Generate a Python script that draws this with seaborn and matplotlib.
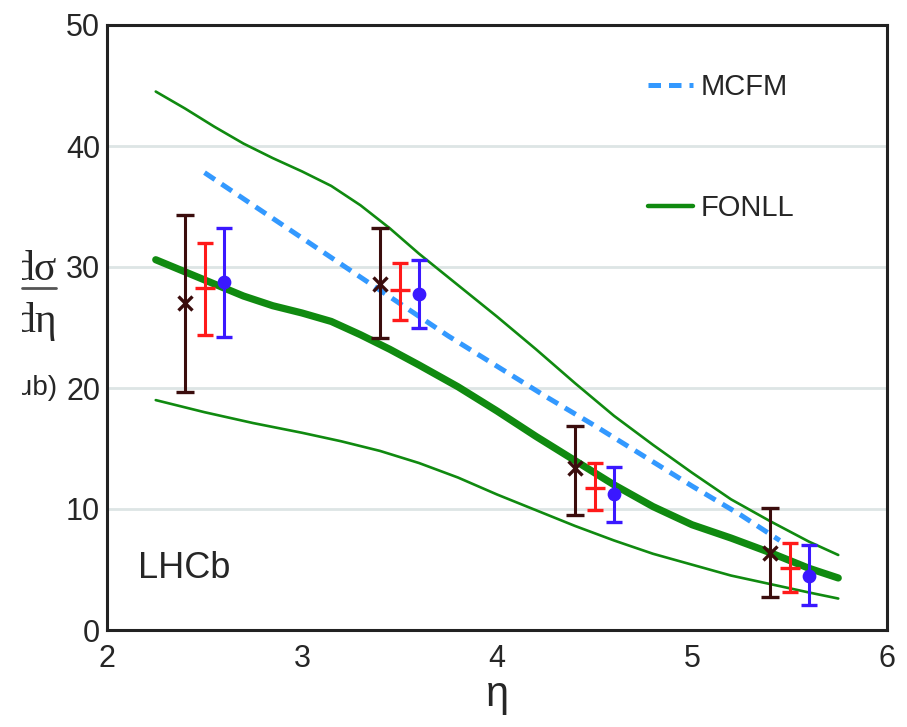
import pandas as pd
import seaborn as sns
import matplotlib.pyplot as plt
from matplotlib.lines import Line2D
from matplotlib.transforms import Bbox, TransformedBbox

# données mesurées (trois jeux, décalés en eta)
eta_brown = [2.4, 3.4, 4.4, 5.4]
val_brown = [27.0, 28.6, 13.4, 6.4]
lo_brown = [19.7, 24.1, 9.5, 2.7]
hi_brown = [34.3, 33.2, 16.9, 10.1]

eta_red = [2.5, 3.5, 4.5, 5.5]
val_red = [28.3, 28.1, 11.7, 5.1]
lo_red = [24.4, 25.6, 9.9, 3.1]
hi_red = [32.0, 30.3, 13.8, 7.2]

eta_blue = [2.6, 3.6, 4.6, 5.6]
val_blue = [28.8, 27.8, 11.2, 4.5]
lo_blue = [24.2, 25.0, 8.9, 2.1]
hi_blue = [33.2, 30.6, 13.5, 7.0]

# prédictions théoriques
eta_mcfm = [2.5, 2.75, 3.0, 3.25, 3.5, 3.75, 4.0, 4.25, 4.5, 4.75, 5.0, 5.25, 5.45]
val_mcfm = [37.8, 35.1, 32.4, 29.7, 27.0, 24.3, 21.8, 19.3, 16.9, 14.4, 11.9, 9.5, 7.4]

eta_fonll = [2.25, 2.4, 2.55, 2.7, 2.85, 3.0, 3.15, 3.3, 3.45, 3.6, 3.8, 4.0, 4.2,
             4.4, 4.6, 4.8, 5.0, 5.2, 5.4, 5.6, 5.75]
val_fonll = [30.6, 29.6, 28.6, 27.6, 26.8, 26.2, 25.5, 24.4, 23.2, 21.9, 20.1, 18.1, 16.0,
             14.0, 12.0, 10.2, 8.7, 7.6, 6.4, 5.1, 4.3]

eta_up = [2.25, 2.4, 2.55, 2.7, 2.85, 3.0, 3.15, 3.3, 3.45, 3.6, 3.8, 4.0, 4.2,
          4.4, 4.6, 4.8, 5.0, 5.2, 5.4, 5.6, 5.75]
up_fonll = [44.5, 43.1, 41.6, 40.2, 39.0, 37.9, 36.7, 35.1, 33.2, 31.1, 28.5, 25.9, 23.2,
            20.4, 17.7, 15.3, 13.0, 10.8, 9.0, 7.3, 6.2]

eta_dn = [2.25, 2.5, 2.75, 3.0, 3.2, 3.4, 3.6, 3.8, 4.0, 4.2, 4.4, 4.6, 4.8,
          5.0, 5.2, 5.4, 5.6, 5.75]
dn_fonll = [19.0, 18.0, 17.1, 16.3, 15.6, 14.8, 13.8, 12.6, 11.2, 9.9, 8.6, 7.4, 6.3,
            5.4, 4.5, 3.8, 3.1, 2.6]

x_ticks = [2, 3, 4, 5, 6]
y_ticks = [0, 10, 20, 30, 40, 50]

sans = ['Liberation Sans Narrow', 'Liberation Sans', 'DejaVu Sans']
serif = ['Liberation Serif', 'DejaVu Serif']

sns.set_theme(style="white")
plt.rcParams['font.family'] = sans

fig = plt.figure(figsize=(9.07, 7.27), dpi=100)
ax = fig.add_axes([107/907, 1-630/727, 780/907, 605/727])

# courbes théoriques
sns.lineplot(x=eta_up, y=up_fonll, color="#108a10", lw=1.9, ax=ax)
sns.lineplot(x=eta_dn, y=dn_fonll, color="#108a10", lw=1.9, ax=ax)
sns.lineplot(x=eta_fonll, y=val_fonll, color="#108a10", lw=5.2, ax=ax)
sns.lineplot(x=eta_mcfm, y=val_mcfm, color="#3399ff", lw=3.6, ax=ax,
             linestyle=(0, (2.5, 1.6)))

# points de mesure avec barres d'erreur
def draw_points(xs, ys, lo, hi, color, marker, ms, capsize):
    err = [[y - l for y, l in zip(ys, lo)], [h - y for y, h in zip(ys, hi)]]
    ax.errorbar(xs, ys, yerr=err, fmt=marker, color=color, ms=ms, mew=2.4,
                elinewidth=2.2, capsize=capsize, capthick=3.4, zorder=5)

draw_points(eta_brown, val_brown, lo_brown, hi_brown, "#3b0d0d", "x", 10, 6.5)
draw_points(eta_red, val_red, lo_red, hi_red, "#ff1a1a", "_", 14, 6)
draw_points(eta_blue, val_blue, lo_blue, hi_blue, "#3a18ff", "o", 7.5, 6)

ax.set_xlim(2, 6)
ax.set_ylim(0, 50)
ax.set_xticks(x_ticks)
ax.set_yticks(y_ticks)
ax.set_xticklabels([str(t) for t in x_ticks])
ax.set_yticklabels([str(t) for t in y_ticks])
ax.tick_params(axis='both', direction='in', labelsize=22, color="#222222", width=1.8)
ax.tick_params(axis='x', length=8, pad=10)
ax.tick_params(axis='y', length=5, pad=5)
ax.yaxis.grid(True, color="#dde5e5", lw=2)
ax.xaxis.grid(False)
for s in ax.spines.values():
    s.set_color("#222222")
    s.set_linewidth(2.2)
    s.set_visible(True)
ax.set_xlabel("η", fontsize=30, labelpad=1)
ax.set_ylabel("")

ax.text(2.16, 4.3, "LHCb", fontsize=26)

handles = [Line2D([], [], color="#3399ff", lw=3.6, linestyle=(0, (2.5, 1.6))),
           Line2D([], [], color="#108a10", lw=3.2)]
ax.legend(handles, ["MCFM", "FONLL"], loc='upper left', bbox_to_anchor=(0.675, 0.945),
          frameon=False, fontsize=21, borderpad=0, labelspacing=3.2,
          handlelength=1.55, handletextpad=0.25)

# étiquette de l'axe y, tronquée par le bord gauche
clip = TransformedBbox(Bbox.from_extents(22/907, 0, 1, 1), fig.transFigure)
for txt, yb, fam, fs in [("dσ", 280, serif, 30), ("dη", 332, serif, 30), ("(μb)", 395, sans, 20)]:
    t = fig.text(57/907, 1-yb/727, txt, ha='right', va='baseline', family=fam, fontsize=fs)
    t.set_clip_box(clip)
    t.set_clip_on(True)
fig.add_artist(Line2D([22/907, 56/907], [1-288/727]*2, transform=fig.transFigure,
                      color="#555555", lw=2))

fig.savefig("out.png", dpi=100)
